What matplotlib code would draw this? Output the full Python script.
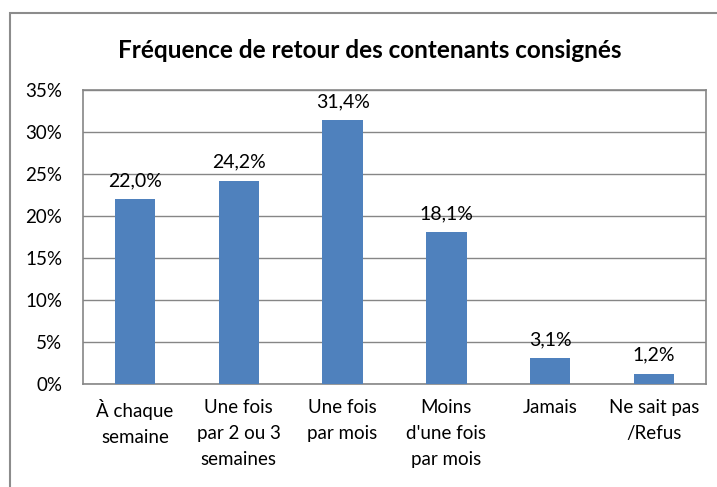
import numpy as np
import matplotlib.pyplot as plt
from matplotlib.patches import Rectangle

categories = ["À chaque\nsemaine", "Une fois\npar 2 ou 3\nsemaines", "Une fois\npar mois",
              "Moins\nd'une fois\npar mois", "Jamais", "Ne sait pas\n/Refus"]
values = [22.0, 24.2, 31.4, 18.1, 3.1, 1.2]
yticks = [0, 5, 10, 15, 20, 25, 30, 35]

plt.rcParams['font.family'] = ['Lato', 'DejaVu Sans']

fig = plt.figure(figsize=(7.17, 4.87), dpi=100)
ax = fig.add_axes([83/717, 1-384/487, (706-83)/717, (384-90)/487])

# outer chart border
fig.patches.append(Rectangle((10/717, -0.1), 1.0, 1-13/487+0.1, transform=fig.transFigure,
                             fill=False, edgecolor='#8c8c8c', linewidth=1.5))

x = np.arange(len(categories))
ax.bar(x, values, width=0.39, color='#4F81BD', zorder=3)
for xi, v in zip(x, values):
    ax.text(xi, v + 1.2, f"{v:.1f}%".replace('.', ','), ha='center', va='bottom', fontsize=14)

ax.set_xlim(-0.5, len(categories) - 0.5)
ax.set_ylim(0, 35)
ax.set_yticks(yticks)
ax.set_yticklabels([f"{t}%" for t in yticks], fontsize=13.5)
ax.set_xticks(x)
ax.set_xticklabels(categories, fontsize=13.5, linespacing=1.65, va='top')
ax.tick_params(axis='both', length=0, pad=11)
ax.tick_params(axis='y', pad=15)
ax.grid(axis='y', color='#868686', linewidth=1, zorder=0)
for s in ax.spines.values():
    s.set_color('#868686')
    s.set_linewidth(1.2)

fig.text(370/717, 1-50/487, "Fréquence de retour des contenants consignés",
         ha='center', va='center', fontsize=17.5, fontweight='bold')

fig.savefig('out.png', dpi=100)
